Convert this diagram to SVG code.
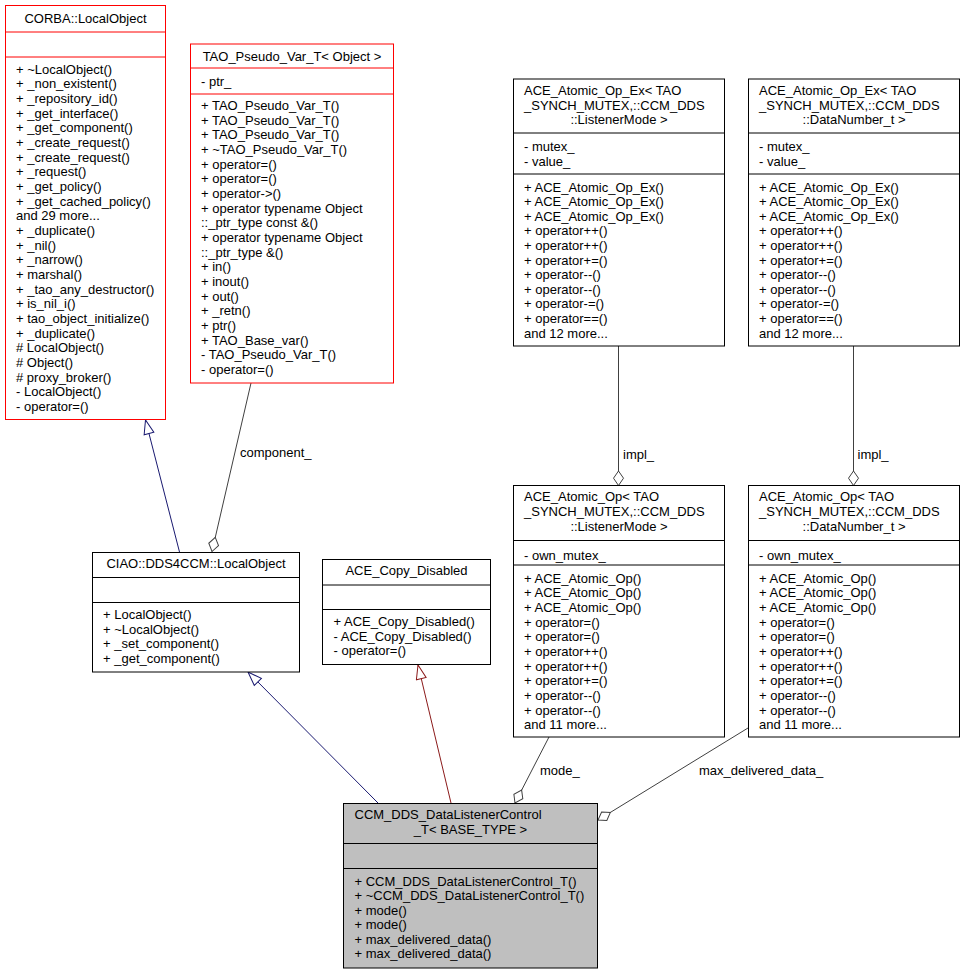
<svg xmlns="http://www.w3.org/2000/svg" width="963" height="973" viewBox="0 0 963 973">
<style>
text{font-family:"Liberation Sans",Arial,Helvetica,sans-serif;font-size:13px;fill:#000}
.c{text-anchor:middle}
.bx{fill:#fff;stroke:#000;stroke-width:1}
.rd{fill:#fff;stroke:#ff0000;stroke-width:1}
.gy{fill:#bfbfbf;stroke:#000;stroke-width:1}
.sk{stroke:#000;stroke-width:1}
.sr{stroke:#ff0000;stroke-width:1}
.inh-b{fill:none;stroke:#191970;stroke-width:1;marker-end:url(#triB)}
.inh-r{fill:none;stroke:#8b1a1a;stroke-width:1;marker-end:url(#triR)}
.agg{fill:none;stroke:#404040;stroke-width:1;marker-end:url(#dia)}
</style>
<defs>
<marker id="triB" markerUnits="userSpaceOnUse" markerWidth="16" markerHeight="12" viewBox="0 0 16 12" refX="15" refY="6" orient="auto"><path d="M1,1 L15,6 L1,11 z" fill="#fff" stroke="#191970"/></marker>
<marker id="triR" markerUnits="userSpaceOnUse" markerWidth="16" markerHeight="12" viewBox="0 0 16 12" refX="15" refY="6" orient="auto"><path d="M1,1 L15,6 L1,11 z" fill="#fff" stroke="#8b1a1a"/></marker>
<marker id="dia" markerUnits="userSpaceOnUse" markerWidth="17" markerHeight="12" viewBox="0 0 17 12" refX="15.5" refY="6" orient="auto"><path d="M1,6 L8.2,1 L15.5,6 L8.2,11 z" fill="#fff" stroke="#404040"/></marker>
</defs>

<g id="connectors">
<path class="inh-b" d="M179.5,552 L145.5,420"/>
<path class="agg" d="M251,383 L212,551.5"/>
<text x="240" y="457">component_</text>
<path class="inh-b" d="M378,803 L248,672"/>
<path class="inh-r" d="M451,803 L418,665"/>
<path class="agg" d="M549,737 L515,803"/>
<text x="540" y="774.5">mode_</text>
<path class="agg" d="M748,728 L598,820"/>
<text x="699" y="774.5">max_delivered_data_</text>
<path class="agg" d="M618.5,346 L618.5,485.5"/>
<text x="623" y="458.5">impl_</text>
<path class="agg" d="M853.5,346 L853.5,485.5"/>
<text x="857.5" y="458.5">impl_</text>
</g>

<g id="corba_localobject">
<rect class="rd" x="5.5" y="5.5" width="160" height="414"/>
<line class="sr" x1="5.5" y1="32" x2="165.5" y2="32"/>
<line class="sr" x1="5.5" y1="57" x2="165.5" y2="57"/>
<text class="c" x="85.5" y="22.5">CORBA::LocalObject</text>
<text x="16" y="73.5">+ ~LocalObject()</text>
<text x="16" y="88.2">+ _non_existent()</text>
<text x="16" y="102.8">+ _repository_id()</text>
<text x="16" y="117.5">+ _get_interface()</text>
<text x="16" y="132.2">+ _get_component()</text>
<text x="16" y="146.9">+ _create_request()</text>
<text x="16" y="161.5">+ _create_request()</text>
<text x="16" y="176.2">+ _request()</text>
<text x="16" y="190.9">+ _get_policy()</text>
<text x="16" y="205.5">+ _get_cached_policy()</text>
<text x="16" y="220.2">and 29 more...</text>
<text x="16" y="234.9">+ _duplicate()</text>
<text x="16" y="249.5">+ _nil()</text>
<text x="16" y="264.2">+ _narrow()</text>
<text x="16" y="278.9">+ marshal()</text>
<text x="16" y="293.6">+ _tao_any_destructor()</text>
<text x="16" y="308.2">+ is_nil_i()</text>
<text x="16" y="322.9">+ tao_object_initialize()</text>
<text x="16" y="337.6">+ _duplicate()</text>
<text x="16" y="352.2"># LocalObject()</text>
<text x="16" y="366.9"># Object()</text>
<text x="16" y="381.6"># proxy_broker()</text>
<text x="16" y="396.2">- LocalObject()</text>
<text x="16" y="410.9">- operator=()</text>
</g>

<g id="tao_pseudo_var_t">
<rect class="rd" x="190.5" y="44" width="203" height="339"/>
<line class="sr" x1="190.5" y1="68" x2="393.5" y2="68"/>
<line class="sr" x1="190.5" y1="94" x2="393.5" y2="94"/>
<text class="c" x="292" y="61">TAO_Pseudo_Var_T&lt; Object &gt;</text>
<text x="201" y="86">- ptr_</text>
<text x="201" y="110">+ TAO_Pseudo_Var_T()</text>
<text x="201" y="124.7">+ TAO_Pseudo_Var_T()</text>
<text x="201" y="139.3">+ TAO_Pseudo_Var_T()</text>
<text x="201" y="154">+ ~TAO_Pseudo_Var_T()</text>
<text x="201" y="168.7">+ operator=()</text>
<text x="201" y="183.4">+ operator=()</text>
<text x="201" y="198">+ operator-&gt;()</text>
<text x="201" y="212.7">+ operator typename Object</text>
<text x="201" y="227.4">::_ptr_type const &amp;()</text>
<text x="201" y="242">+ operator typename Object</text>
<text x="201" y="256.7">::_ptr_type &amp;()</text>
<text x="201" y="271.4">+ in()</text>
<text x="201" y="286">+ inout()</text>
<text x="201" y="300.7">+ out()</text>
<text x="201" y="315.4">+ _retn()</text>
<text x="201" y="330">+ ptr()</text>
<text x="201" y="344.7">+ TAO_Base_var()</text>
<text x="201" y="359.4">- TAO_Pseudo_Var_T()</text>
<text x="201" y="374">- operator=()</text>
</g>

<g id="ace_atomic_op_ex_listenermode">
<rect class="bx" x="513.5" y="79" width="211" height="267"/>
<line class="sk" x1="513.5" y1="133" x2="724.5" y2="133"/>
<line class="sk" x1="513.5" y1="174" x2="724.5" y2="174"/>
<text x="524" y="95">ACE_Atomic_Op_Ex&lt; TAO</text>
<text x="524" y="109.5">_SYNCH_MUTEX,::CCM_DDS</text>
<text class="c" x="619" y="124">::ListenerMode &gt;</text>
<text x="524" y="151">- mutex_</text>
<text x="524" y="165.6">- value_</text>
<text x="524" y="191.5">+ ACE_Atomic_Op_Ex()</text>
<text x="524" y="206.1">+ ACE_Atomic_Op_Ex()</text>
<text x="524" y="220.7">+ ACE_Atomic_Op_Ex()</text>
<text x="524" y="235.3">+ operator++()</text>
<text x="524" y="249.9">+ operator++()</text>
<text x="524" y="264.5">+ operator+=()</text>
<text x="524" y="279.1">+ operator--()</text>
<text x="524" y="293.7">+ operator--()</text>
<text x="524" y="308.3">+ operator-=()</text>
<text x="524" y="322.9">+ operator==()</text>
<text x="524" y="337.5">and 12 more...</text>
</g>

<g id="ace_atomic_op_ex_datanumber">
<rect class="bx" x="748.5" y="79" width="211" height="267"/>
<line class="sk" x1="748.5" y1="133" x2="959.5" y2="133"/>
<line class="sk" x1="748.5" y1="174" x2="959.5" y2="174"/>
<text x="759" y="95">ACE_Atomic_Op_Ex&lt; TAO</text>
<text x="759" y="109.5">_SYNCH_MUTEX,::CCM_DDS</text>
<text class="c" x="854" y="124">::DataNumber_t &gt;</text>
<text x="759" y="151">- mutex_</text>
<text x="759" y="165.6">- value_</text>
<text x="759" y="191.5">+ ACE_Atomic_Op_Ex()</text>
<text x="759" y="206.1">+ ACE_Atomic_Op_Ex()</text>
<text x="759" y="220.7">+ ACE_Atomic_Op_Ex()</text>
<text x="759" y="235.3">+ operator++()</text>
<text x="759" y="249.9">+ operator++()</text>
<text x="759" y="264.5">+ operator+=()</text>
<text x="759" y="279.1">+ operator--()</text>
<text x="759" y="293.7">+ operator--()</text>
<text x="759" y="308.3">+ operator-=()</text>
<text x="759" y="322.9">+ operator==()</text>
<text x="759" y="337.5">and 12 more...</text>
</g>

<g id="ace_atomic_op_listenermode">
<rect class="bx" x="513.5" y="485.5" width="211" height="251.5"/>
<line class="sk" x1="513.5" y1="540.5" x2="724.5" y2="540.5"/>
<line class="sk" x1="513.5" y1="565" x2="724.5" y2="565"/>
<text x="524" y="501.2">ACE_Atomic_Op&lt; TAO</text>
<text x="524" y="515.9">_SYNCH_MUTEX,::CCM_DDS</text>
<text class="c" x="619" y="530.6">::ListenerMode &gt;</text>
<text x="524" y="560">- own_mutex_</text>
<text x="524" y="582.5">+ ACE_Atomic_Op()</text>
<text x="524" y="597.2">+ ACE_Atomic_Op()</text>
<text x="524" y="611.8">+ ACE_Atomic_Op()</text>
<text x="524" y="626.5">+ operator=()</text>
<text x="524" y="641.2">+ operator=()</text>
<text x="524" y="655.8">+ operator++()</text>
<text x="524" y="670.5">+ operator++()</text>
<text x="524" y="685.2">+ operator+=()</text>
<text x="524" y="699.9">+ operator--()</text>
<text x="524" y="714.5">+ operator--()</text>
<text x="524" y="729.2">and 11 more...</text>
</g>

<g id="ace_atomic_op_datanumber">
<rect class="bx" x="748.5" y="485.5" width="211" height="251.5"/>
<line class="sk" x1="748.5" y1="540.5" x2="959.5" y2="540.5"/>
<line class="sk" x1="748.5" y1="565" x2="959.5" y2="565"/>
<text x="759" y="501.2">ACE_Atomic_Op&lt; TAO</text>
<text x="759" y="515.9">_SYNCH_MUTEX,::CCM_DDS</text>
<text class="c" x="854" y="530.6">::DataNumber_t &gt;</text>
<text x="759" y="560">- own_mutex_</text>
<text x="759" y="582.5">+ ACE_Atomic_Op()</text>
<text x="759" y="597.2">+ ACE_Atomic_Op()</text>
<text x="759" y="611.8">+ ACE_Atomic_Op()</text>
<text x="759" y="626.5">+ operator=()</text>
<text x="759" y="641.2">+ operator=()</text>
<text x="759" y="655.8">+ operator++()</text>
<text x="759" y="670.5">+ operator++()</text>
<text x="759" y="685.2">+ operator+=()</text>
<text x="759" y="699.9">+ operator--()</text>
<text x="759" y="714.5">+ operator--()</text>
<text x="759" y="729.2">and 11 more...</text>
</g>

<g id="ciao_dds4ccm_localobject">
<rect class="bx" x="92.5" y="552.5" width="207" height="119.5"/>
<line class="sk" x1="92.5" y1="577.5" x2="299.5" y2="577.5"/>
<line class="sk" x1="92.5" y1="602.5" x2="299.5" y2="602.5"/>
<text class="c" x="196" y="568">CIAO::DDS4CCM::LocalObject</text>
<text x="103" y="619">+ LocalObject()</text>
<text x="103" y="633.6">+ ~LocalObject()</text>
<text x="103" y="648.2">+ _set_component()</text>
<text x="103" y="662.8">+ _get_component()</text>
</g>

<g id="ace_copy_disabled">
<rect class="bx" x="322.5" y="559.5" width="168" height="105"/>
<line class="sk" x1="322.5" y1="585" x2="490.5" y2="585"/>
<line class="sk" x1="322.5" y1="609.5" x2="490.5" y2="609.5"/>
<text class="c" x="406.5" y="575">ACE_Copy_Disabled</text>
<text x="333.5" y="626">+ ACE_Copy_Disabled()</text>
<text x="333.5" y="640.6">- ACE_Copy_Disabled()</text>
<text x="333.5" y="655.2">- operator=()</text>
</g>

<g id="ccm_dds_datalistenercontrol_t">
<rect class="gy" x="343.5" y="803.5" width="254" height="164.5"/>
<line class="sk" x1="343.5" y1="843.5" x2="597.5" y2="843.5"/>
<line class="sk" x1="343.5" y1="868.5" x2="597.5" y2="868.5"/>
<text x="354.5" y="819">CCM_DDS_DataListenerControl</text>
<text class="c" x="470.5" y="833.6">_T&lt; BASE_TYPE &gt;</text>
<text x="354.5" y="885.5">+ CCM_DDS_DataListenerControl_T()</text>
<text x="354.5" y="900">+ ~CCM_DDS_DataListenerControl_T()</text>
<text x="354.5" y="914.5">+ mode()</text>
<text x="354.5" y="929">+ mode()</text>
<text x="354.5" y="943.5">+ max_delivered_data()</text>
<text x="354.5" y="958">+ max_delivered_data()</text>
</g>
</svg>
